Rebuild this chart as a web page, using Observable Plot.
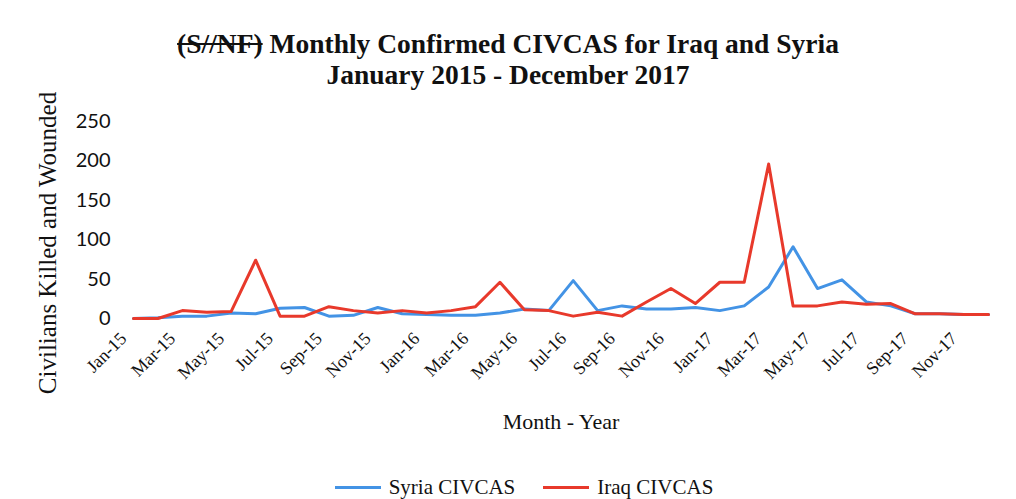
<!DOCTYPE html>
<html><head><meta charset="utf-8">
<script src="https://cdn.jsdelivr.net/npm/d3@7"></script>
<script src="https://cdn.jsdelivr.net/npm/@observablehq/plot@0.6"></script>
<style>
body{margin:0;background:#fff;width:1016px;height:499px;overflow:hidden;font-family:"Liberation Serif",serif;color:#111;}
#title{height:95px;box-sizing:border-box;padding-top:28px;text-align:center;font-weight:bold;font-size:27.5px;line-height:31px;color:#111;}
#chart{height:345px;}
#chart svg{display:block;}
#legend{height:59px;box-sizing:border-box;padding-top:35px;padding-left:32px;display:flex;justify-content:center;align-items:center;font-size:21px;line-height:24px;}
.item{display:flex;align-items:center;margin:0 14px;}
.sw{width:46px;height:3px;margin-right:8px;}
g[aria-label="x-axis label"] text{font-size:22px;}
g[aria-label="y-axis label"] text{font-size:25px;}
g[aria-label="x-axis tick label"] text{font-size:18px;}
g[aria-label="y-axis tick label"] text{font-size:20px;font-family:Lato,sans-serif;}
</style></head>
<body>
<div id="title"><div><span style="text-decoration:line-through">(S//NF)</span> Monthly Confirmed CIVCAS for Iraq and Syria</div><div>January 2015 - December 2017</div></div>
<div id="chart"></div>
<div id="legend"></div>
<script>
const months = ["Jan-15","Feb-15","Mar-15","Apr-15","May-15","Jun-15","Jul-15","Aug-15","Sep-15","Oct-15","Nov-15","Dec-15",
"Jan-16","Feb-16","Mar-16","Apr-16","May-16","Jun-16","Jul-16","Aug-16","Sep-16","Oct-16","Nov-16","Dec-16",
"Jan-17","Feb-17","Mar-17","Apr-17","May-17","Jun-17","Jul-17","Aug-17","Sep-17","Oct-17","Nov-17","Dec-17"];
const syria = [0,1,3,3,7,6,13,14,3,4,14,6, 5,4,4,7,12,10,48,10,16,12,12,14, 10,16,40,91,38,49,21,16,6,6,5,5];
const iraq  = [0,0,10,8,9,74,3,3,15,10,7,10, 7,10,15,46,11,10,3,8,3,21,38,19, 46,46,196,16,16,21,18,19,6,6,5,5];
const seriesNames = ["Syria CIVCAS","Iraq CIVCAS"];
const seriesColors = ["#4393e5","#e8392b"];
const yTicks = [0,50,100,150,200,250];
const xTickIdx = months.map((d,i)=>i).filter(i=>i%2===0);

const data = [syria, iraq].flatMap((vals, s) => vals.map((v,i)=>({idx: i, month: months[i], value: v, series: seriesNames[s]})));

const plot = Plot.plot({
  width:1016, height:345, marginLeft:133, marginRight:28, marginTop:26, marginBottom:122,
  style:{fontFamily:"Liberation Serif", color:"#111", background:"#fff", overflow:"visible"},
  x:{type:"linear", domain:[0, months.length-1], ticks: xTickIdx, tickFormat: i => months[i], tickRotate:-45, tickSize:0, tickPadding:7, label:"Month - Year", labelAnchor:"center", labelOffset:110, labelArrow:false},
  y:{domain:[0,250], ticks: yTicks, tickSize:0, tickPadding:23, label:"Civilians Killed and Wounded", labelAnchor:"center", labelOffset:95, labelArrow:false},
  color:{domain: seriesNames, range: seriesColors},
  marks:[
    Plot.line(data,{x:"idx", y:"value", z:"series", stroke:"series", strokeWidth:3, strokeLinejoin:"round"})
  ]
});
document.getElementById("chart").appendChild(plot);

function shift(label, dx, dy){
  const g = plot.querySelector(`g[aria-label="${label}"]`);
  if (g) g.setAttribute("transform", ((g.getAttribute("transform")||"") + ` translate(${dx},${dy})`).trim());
}
shift("x-axis tick label", -10, 10);
shift("y-axis label", 0, 23);

const lg = document.getElementById("legend");
seriesNames.forEach((n,i)=>{
  const it = document.createElement("div"); it.className="item";
  const sw = document.createElement("div"); sw.className="sw"; sw.style.background = seriesColors[i];
  const t = document.createElement("span"); t.textContent = n;
  it.appendChild(sw); it.appendChild(t); lg.appendChild(it);
});
</script>
</body></html>
